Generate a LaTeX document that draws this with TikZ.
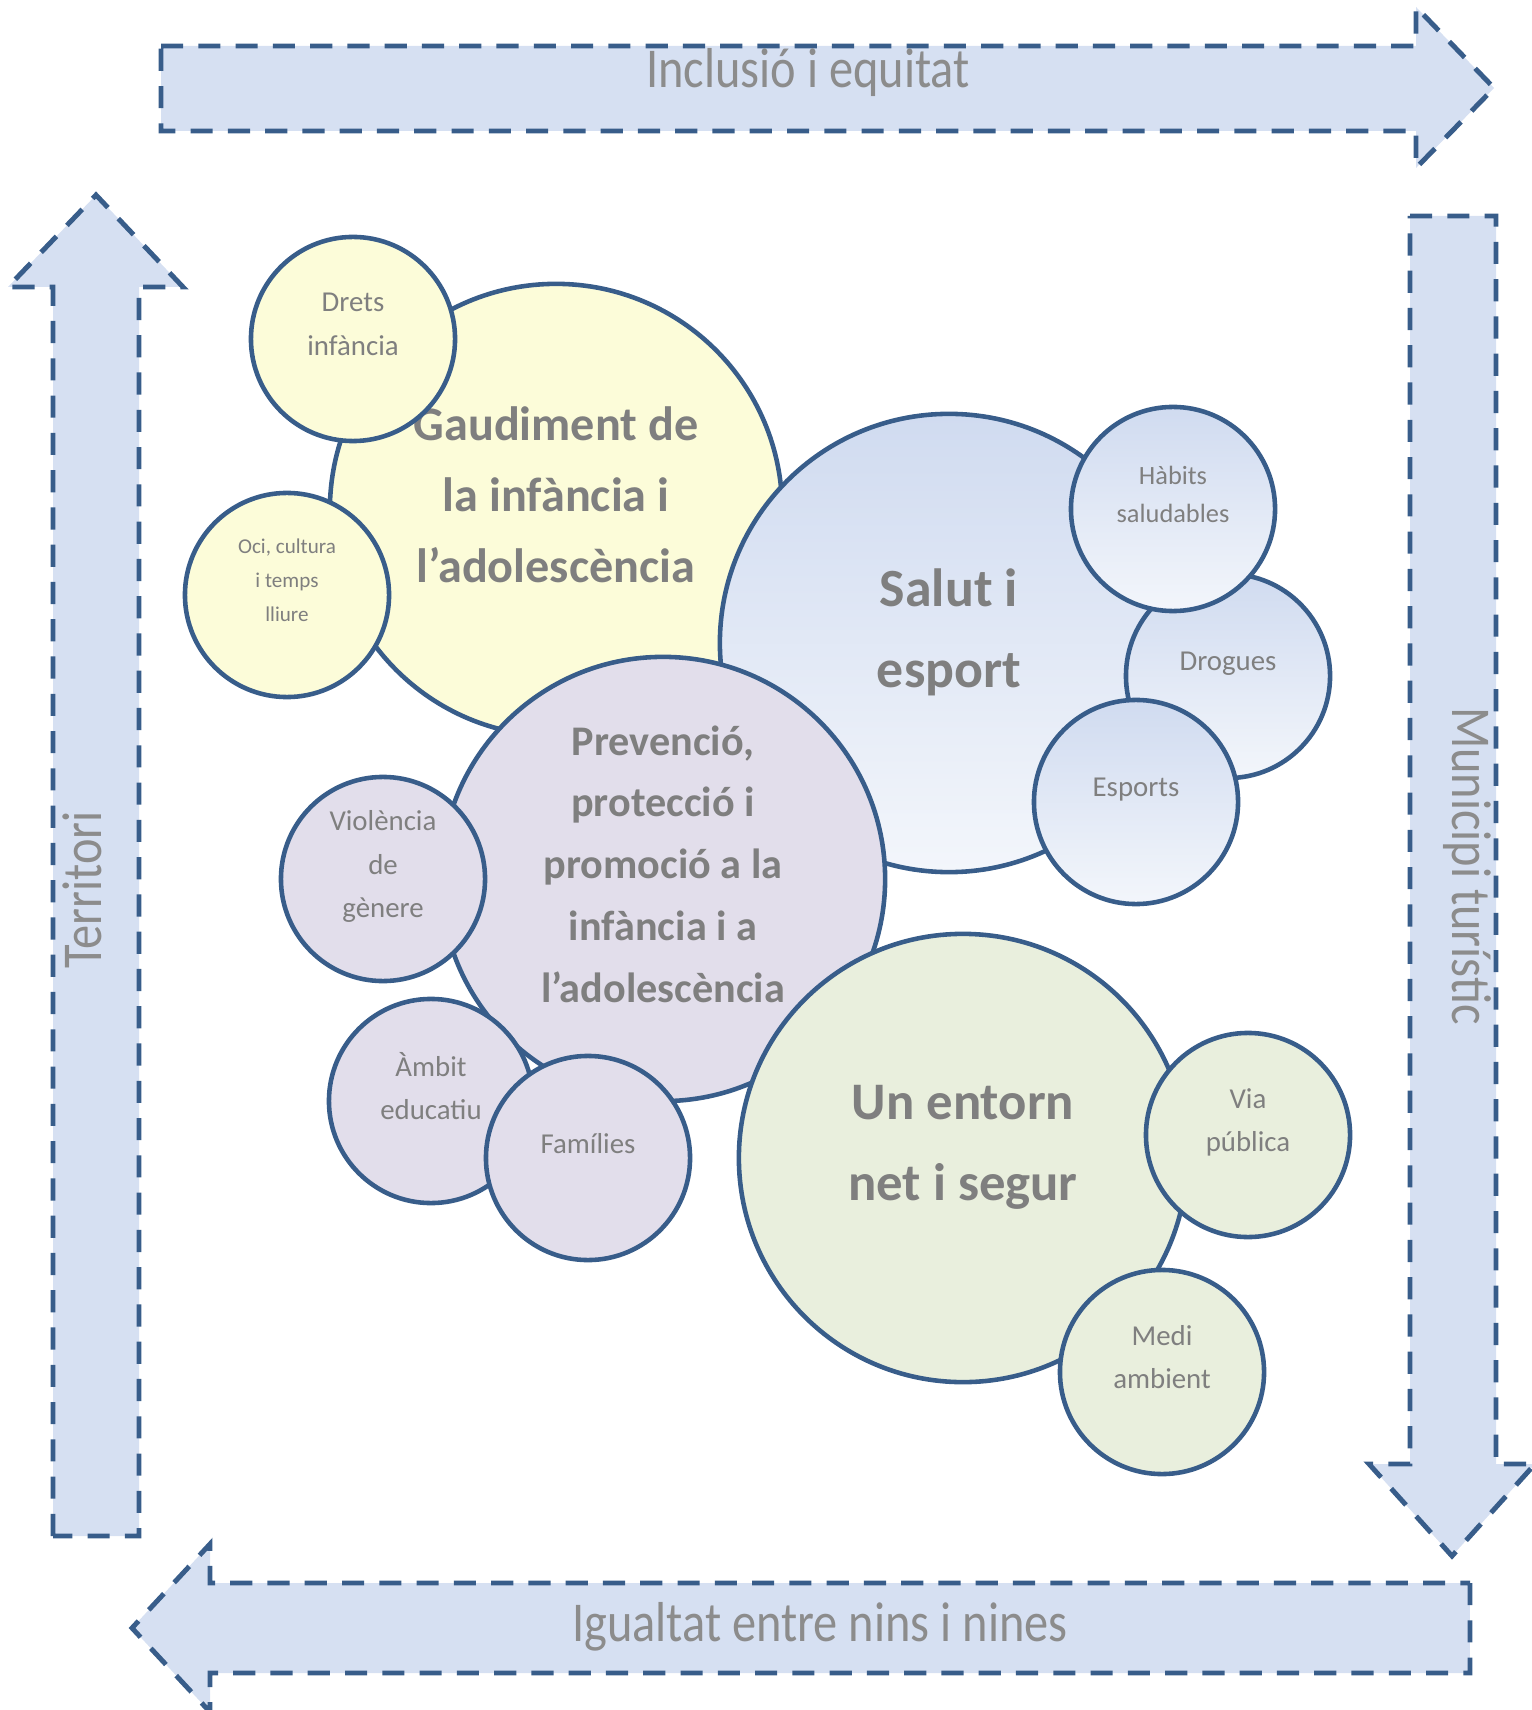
\documentclass[tikz,border=0pt]{standalone}
\usepackage{fontspec}
\setmainfont{Carlito}
\newfontfamily\bandfont[FakeStretch=0.86]{Carlito}
\definecolor{lineblue}{HTML}{385D8A}
\definecolor{bandlight}{HTML}{D6E0F2}
\definecolor{banddark}{HTML}{B9C9E8}
\definecolor{cyellow}{HTML}{FCFCD9}
\definecolor{cpurple}{HTML}{E2DEEB}
\definecolor{cgreen}{HTML}{E9EFDD}
\definecolor{bluetop}{HTML}{D0DBF0}
\definecolor{bluemid}{HTML}{BACAE8}
\definecolor{bluebot}{HTML}{F3F6FB}
\definecolor{txtgray}{HTML}{7F7F7F}
\definecolor{bandgray}{HTML}{8C8C8C}
\tikzset{
	band/.style={draw=lineblue, line width=1.4pt, dash pattern=on 6.3pt off 4.3pt},
	bandtext/.style={font=\bandfont\fontsize{16}{19}\selectfont, text=bandgray},
	bubble/.style={circle, draw=lineblue, line width=1.3pt, inner sep=0pt, align=center, text=txtgray, text depth=0.3cm},
	topic/.style n args={2}{bubble, font=\bfseries\fontsize{#1}{#2}\selectfont},
	sub/.style={bubble, minimum size=2.04cm, font=\fontsize{8.2}{12.4}\selectfont},
	yel/.style={fill=cyellow},
	pur/.style={fill=cpurple},
	grn/.style={fill=cgreen},
	blu/.style={top color=bluetop, middle color=bluemid, bottom color=bluebot}
}
\begin{document}
\begin{tikzpicture}[x=0.01cm,y=-0.01cm]
	\useasboundingbox (0,0) rectangle (1531,1710);
	% arrows round the border
	\draw[band, top color=bandlight, middle color=banddark, bottom color=bandlight]
		(161,46) -- (1416,46) -- (1416,7) -- (1494,88) -- (1416,168) -- (1416,131) -- (161,131) -- cycle;
	\draw[band, left color=bandlight, middle color=banddark, right color=bandlight]
		(1410,216) -- (1496,216) -- (1496,1464) -- (1535,1464) -- (1452,1556) -- (1369,1464) -- (1410,1464) -- cycle;
	\draw[band, top color=bandlight, middle color=banddark, bottom color=bandlight]
		(1470,1583) -- (1470,1673) -- (210,1673) -- (210,1712) -- (132,1628) -- (210,1544) -- (210,1583) -- cycle;
	\draw[band, left color=bandlight, middle color=banddark, right color=bandlight]
		(53,1536) -- (53,287) -- (8,287) -- (96,195) -- (183,287) -- (139,287) -- (139,1536) -- cycle;
	\node (incl) at (808,73) [bandtext] {Inclusió i equitat};
	\node (muni) at (1467,866) [bandtext, rotate=-90] {Municipi turístic};
	\node (igual) at (820,1627) [bandtext] {Igualtat entre nins i nines};
	\node (terr) at (82,890) [bandtext, rotate=90] {Territori};

	% bubbles
	\node (gaud) at (556,510) [topic={13.7}{20.2}, yel, minimum size=4.52cm] {Gaudiment de\\la infància i\\l’adolescència};
	\node (drets) at (353,339) [sub, yel] {Drets\\infància};
	\node (oci) at (287,595) [sub, yel, font=\fontsize{6}{9.7}\selectfont] {Oci, cultura\\i temps\\lliure};
	\node (salut) at (949,643) [topic={15.3}{23}, blu, minimum size=4.58cm] {Salut i\\esport};
	\node (drog) at (1228,676) [sub, blu] {Drogues};
	\node (habit) at (1173,509) [sub, blu, font=\fontsize{7.5}{10.8}\selectfont] {Hàbits\\saludables};
	\node (esport) at (1136,802) [sub, blu] {Esports};
	\node (prev) at (663,879) [topic={12}{17.6}, pur, minimum size=4.44cm] {Prevenció,\\protecció i\\promoció a la\\infància i a\\l’adolescència};
	\node (viol) at (383,879) [sub, pur] {Violència\\de\\gènere};
	\node (ambit) at (431,1101) [sub, pur] {Àmbit\\educatiu};
	\node (famil) at (588,1158) [sub, pur] {Famílies};
	\node (entorn) at (963,1158) [topic={15}{23}, grn, minimum size=4.48cm] {Un entorn\\net i segur};
	\node (via) at (1248,1135) [sub, grn] {Via\\pública};
	\node (medi) at (1162,1372) [sub, grn] {Medi\\ambient};
\end{tikzpicture}
\end{document}
